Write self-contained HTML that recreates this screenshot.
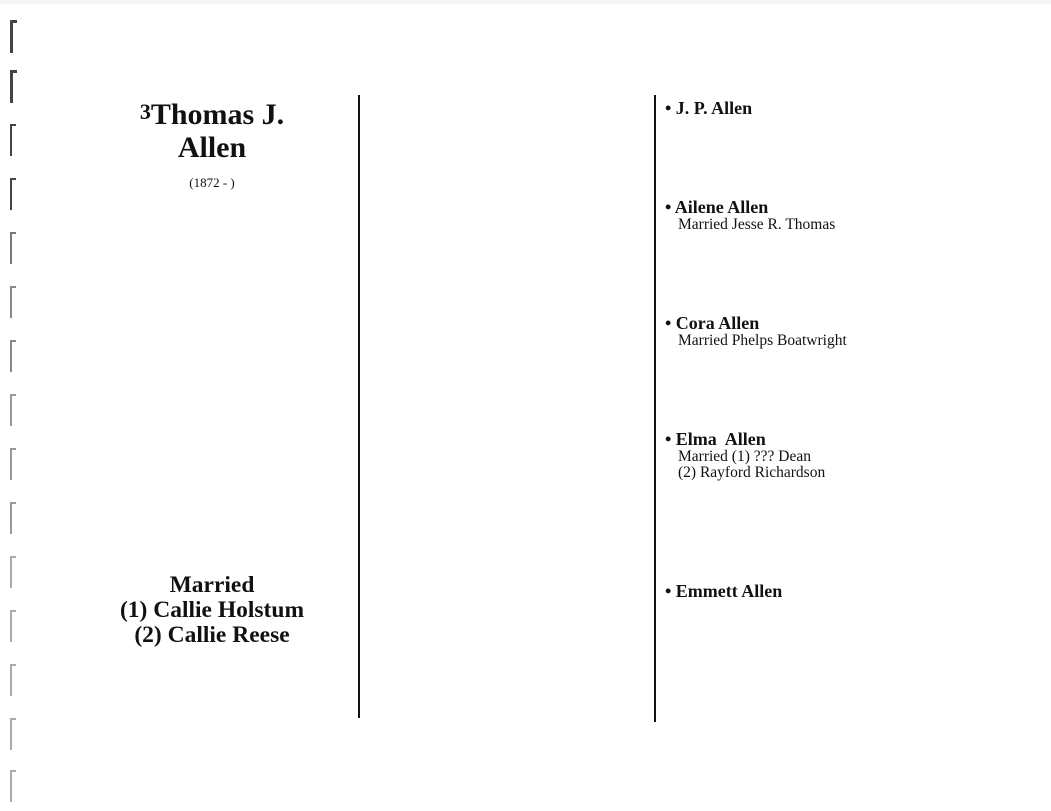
<!DOCTYPE html>
<html><head><style>
body{margin:0;width:1051px;height:811px;background:#fff;position:relative;overflow:hidden;font-family:"Liberation Serif",serif;color:#111}
.b{position:absolute;left:10px;height:30px;border-left:2px solid #444;border-top:2px solid #444;width:4px}
.t{position:absolute;white-space:nowrap}
.v{position:absolute;width:2px;background:#111}
.h{font-weight:bold;font-size:18px}
.s{font-size:15.5px;line-height:16px}
</style></head><body>
<div style="position:absolute;left:0;top:0;width:1051px;height:4px;background:#f6f6f6"></div>
<div class="b" style="top:20px;border-width:3px"></div>
<div class="b" style="top:70px;border-width:3px"></div>
<div class="b" style="top:124px"></div>
<div class="b" style="top:178px"></div>
<div class="b" style="top:232px;border-color:#777"></div>
<div class="b" style="top:286px;border-color:#888"></div>
<div class="b" style="top:340px;border-color:#888"></div>
<div class="b" style="top:394px;border-color:#999"></div>
<div class="b" style="top:448px;border-color:#999"></div>
<div class="b" style="top:502px;border-color:#999"></div>
<div class="b" style="top:556px;border-color:#aaa"></div>
<div class="b" style="top:610px;border-color:#aaa"></div>
<div class="b" style="top:664px;border-color:#aaa"></div>
<div class="b" style="top:718px;border-color:#aaa"></div>
<div class="b" style="top:770px;border-color:#aaa"></div>
<div class="t" style="left:112px;width:200px;top:95px;text-align:center;font-weight:bold;font-size:30px;line-height:33px"><span style="font-size:22px;vertical-align:5px">3</span>Thomas J.<br>Allen</div>
<div class="t" style="left:112px;width:200px;top:175px;text-align:center;font-size:13px">(1872 - )</div>
<div class="t" style="left:62px;width:300px;top:573px;text-align:center;font-weight:bold;font-size:23.5px;line-height:25px">Married<br>(1) Callie Holstum<br>(2) Callie Reese</div>
<div class="v" style="left:358px;top:95px;height:623px"></div>
<div class="v" style="left:654px;top:95px;height:627px"></div>
<div class="t h" style="left:665px;top:98px">• J. P. Allen</div>
<div class="t h" style="left:665px;top:197px">• Ailene Allen</div>
<div class="t s" style="left:678px;top:217px">Married Jesse R. Thomas</div>
<div class="t h" style="left:665px;top:313px">• Cora Allen</div>
<div class="t s" style="left:678px;top:333px">Married Phelps Boatwright</div>
<div class="t h" style="left:665px;top:429px">• Elma&nbsp; Allen</div>
<div class="t s" style="left:678px;top:449px">Married (1) ??? Dean<br>(2) Rayford Richardson</div>
<div class="t h" style="left:665px;top:581px">• Emmett Allen</div>
</body></html>
